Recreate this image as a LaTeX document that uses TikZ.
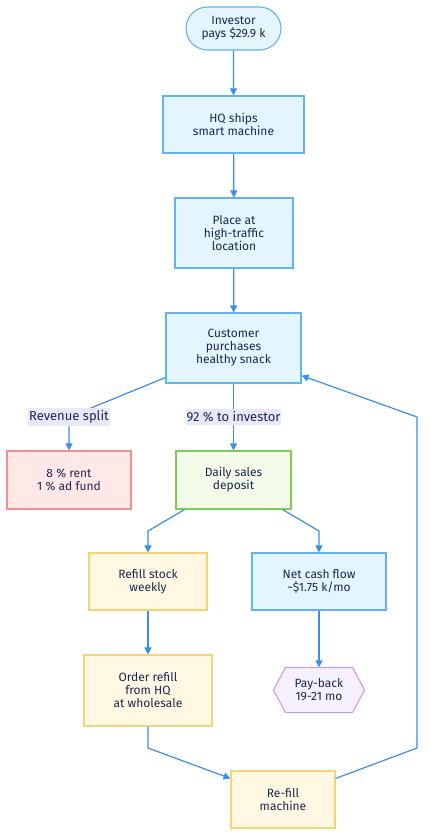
\documentclass[tikz,border=0pt]{standalone}
\usepackage{fontspec}
\setmainfont{Fira Sans}
\usetikzlibrary{shapes.misc,arrows.meta}
\definecolor{linec}{HTML}{3A8EE6}
\definecolor{txt}{HTML}{1B2850}
\definecolor{bluefill}{HTML}{E5F5FD}
\definecolor{blueline}{HTML}{62B4EE}
\definecolor{redfill}{HTML}{FFE8E6}
\definecolor{redline}{HTML}{F09090}
\definecolor{greenfill}{HTML}{F2FCE9}
\definecolor{greenline}{HTML}{80CC58}
\definecolor{yelfill}{HTML}{FFF9E3}
\definecolor{yelline}{HTML}{F8D478}
\definecolor{hexfill}{HTML}{F7F0FF}
\definecolor{hexline}{HTML}{C99CEA}
\definecolor{lblfill}{HTML}{E8E8F8}
\tikzset{
  box/.style={draw, line width=1.1pt, align=center, text=txt, font=\fontsize{12}{13}\selectfont, inner sep=0pt},
  bluebox/.style={box, draw=blueline, fill=bluefill},
  redbox/.style={box, draw=redline, fill=redfill},
  greenbox/.style={box, draw=greenline, fill=greenfill},
  yelbox/.style={box, draw=yelline, fill=yelfill},
  arr/.style={draw=linec, line width=1.2pt, -{Triangle[length=7pt,width=7pt]}},
  lbl/.style={fill=lblfill, text=txt, font=\fontsize{13}{15}\selectfont, inner xsep=1pt, inner ysep=3pt},
}
\begin{document}
\begin{tikzpicture}[x=1pt,y=-1pt]
\useasboundingbox (0,0) rectangle (430,838);
\node[bluebox, rounded rectangle, minimum width=95pt, minimum height=43pt] (inv) at (233.5,28.5) {Investor\\pays \$29.9 k};
\node[bluebox, minimum width=141pt, minimum height=57pt] (hq) at (233.5,124.5) {HQ ships\\smart machine};
\node[bluebox, minimum width=118pt, minimum height=70pt] (place) at (234,233) {Place at\\high-traffic\\location};
\node[bluebox, minimum width=135pt, minimum height=70pt] (cust) at (233.5,348) {Customer\\purchases\\healthy snack};
\node[redbox, minimum width=124pt, minimum height=58pt] (rent) at (69,480) {8 \% rent\\1 \% ad fund};
\node[greenbox, minimum width=115pt, minimum height=58pt] (daily) at (233.5,480) {Daily sales\\deposit};
\node[yelbox, minimum width=118pt, minimum height=57pt] (refill) at (148,581.5) {Refill stock\\weekly};
\node[bluebox, minimum width=134pt, minimum height=57pt] (net) at (319,581.5) {Net cash flow\\\textasciitilde\$1.75 k/mo};
\node[yelbox, minimum width=128pt, minimum height=71pt] (order) at (148,690.5) {Order refill\\from HQ\\at wholesale};
\node[box, draw=none, minimum width=90pt, minimum height=44pt] (pb) at (319,690) {};
\filldraw[draw=hexline, fill=hexfill, line width=1.1pt] (pb.west) -- ([xshift=12pt]pb.north west) -- ([xshift=-12pt]pb.north east) -- (pb.east) -- ([xshift=-12pt]pb.south east) -- ([xshift=12pt]pb.south west) -- cycle;
\node[text=txt, align=center, font=\fontsize{12}{13}\selectfont] at (pb.center) {Pay-back\\19-21 mo};
\node[yelbox, minimum width=104pt, minimum height=57pt] (mach) at (283,799.5) {Re-fill\\machine};

\draw[arr] (inv) -- (hq);
\draw[arr] (hq) -- (place);
\draw[arr] (place) -- (cust);
\draw[arr] ([yshift=6pt]cust.south west) -- (69,417) node[lbl] {Revenue split} -- (rent.north);
\draw[arr] (cust) -- node[lbl] {92 \% to investor} (daily);
\draw[arr] ([xshift=9pt]daily.south west) -- (148,531) -- (refill.north);
\draw[arr] ([xshift=-9pt]daily.south east) -- (319,531) -- (net.north);
\draw[arr] (refill) -- (order);
\draw[arr] (net) -- (pb.north);
\draw[arr] (order.south) -- (148,748) -- ([yshift=-8pt]mach.north west);
\draw[arr] ([yshift=-8pt]mach.north east) -- (417,748) -- (417,417) -- ([yshift=8pt]cust.south east);
\end{tikzpicture}
\end{document}
